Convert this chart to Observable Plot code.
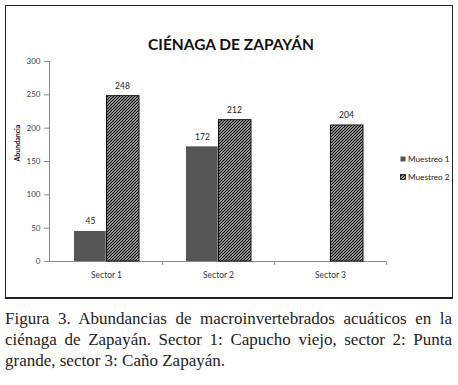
<!DOCTYPE html>
<html>
<head>
<meta charset="utf-8">
<script src="https://cdn.jsdelivr.net/npm/d3@7"></script>
<script src="https://cdn.jsdelivr.net/npm/@observablehq/plot@0.6"></script>
<style>
  html, body { margin: 0; padding: 0; background: #fff; }
  #wrap { position: relative; width: 458px; height: 300px; }
  #border { position: absolute; left: 5px; top: 5px; width: 446px; height: 291px; border: 1px solid #222; border-bottom-width: 2px; pointer-events: none; }
  #legend { position: absolute; left: 400px; top: 150px; width: 51px; overflow: hidden; white-space: nowrap; font: 8.2px Lato, sans-serif; color: #222; }
  #legend .item { height: 18px; display: flex; align-items: center; }
  #legend svg { margin-right: 2px; flex-shrink: 0; }
  #legend span { flex-shrink: 0; }
  #caption { width: 447px; margin: 8px 0 0 5px; font-family: "Liberation Serif", serif; font-size: 17px; line-height: 21px; color: #222; }
  #caption .j { text-align: justify; text-align-last: justify; }
</style>
</head>
<body>
<div id="wrap"></div>
<div id="caption"></div>
<script>
const title = "CIÉNAGA DE ZAPAYÁN";
const yLabel = "Abundancia";
const sectors = ["Sector 1", "Sector 2", "Sector 3"];
const series = ["Muestreo 1", "Muestreo 2"];
const muestreo1 = [45, 172, null];
const muestreo2 = [248, 212, 204];
const yTicks = [0, 50, 100, 150, 200, 250, 300];
const captionLines = [
  "Figura 3. Abundancias de macroinvertebrados acuáticos en la",
  "ciénaga de Zapayán. Sector 1: Capucho viejo, sector 2: Punta",
  "grande, sector 3: Caño Zapayán."
];

const m1 = sectors.map((s, i) => ({sector: s, value: muestreo1[i]})).filter(d => d.value != null);
const m2 = sectors.map((s, i) => ({sector: s, value: muestreo2[i]})).filter(d => d.value != null);

const font = "Lato, 'Open Sans', sans-serif";
const plot = Plot.plot({
  width: 458,
  height: 300,
  marginTop: 61,
  marginBottom: 39,
  marginLeft: 49,
  marginRight: 72,
  style: {fontFamily: font, background: "transparent", overflow: "visible"},
  x: {domain: sectors, padding: 0},
  y: {domain: [0, 300]},
  marks: [
    Plot.frame({anchor: "left", stroke: "#888"}),
    Plot.ruleY([0], {stroke: "#888"}),
    Plot.axisY({ticks: yTicks, tickSize: 5, tickPadding: 4, fontSize: 8, fill: "#444", stroke: "#888", label: null}),
    Plot.axisX({tickSize: 0, tickPadding: 10, fontSize: 8.5, fill: "#333", label: null}),
    Plot.axisX({tickSize: 4, dx: 56.2, tickFormat: () => "", stroke: "#888", label: null}),
    Plot.barY(m1, {x: "sector", y: "value", fill: "#555", insetLeft: 24, insetRight: 56.3}),
    Plot.barY(m2, {x: "sector", y: "value", fill: "url(#hatch)", stroke: "#111", strokeWidth: 1, insetLeft: 56.5, insetRight: 23}),
    Plot.text(m1, {x: "sector", y: "value", text: d => String(d.value), dx: -16, dy: -10, fontSize: 8.5, fill: "#222"}),
    Plot.text(m2, {x: "sector", y: "value", text: d => String(d.value), dx: 16, dy: -10, fontSize: 8.5, fill: "#222"}),
    Plot.text([title], {text: d => d, frameAnchor: "top", dx: 13, dy: -23, fontSize: 15.5, fontWeight: "bold", fill: "#111"}),
    Plot.text([yLabel], {text: d => d, frameAnchor: "left", rotate: -90, dx: -32, fontSize: 7, fontWeight: "bold", fill: "#111"})
  ]
});

// hatch pattern definition
const ns = "http://www.w3.org/2000/svg";
function makeDefs(svg) {
  const defs = document.createElementNS(ns, "defs");
  const pat = document.createElementNS(ns, "pattern");
  pat.setAttribute("id", "hatch");
  pat.setAttribute("patternUnits", "userSpaceOnUse");
  pat.setAttribute("width", "3");
  pat.setAttribute("height", "3");
  const bg = document.createElementNS(ns, "rect");
  bg.setAttribute("width", "3"); bg.setAttribute("height", "3"); bg.setAttribute("fill", "#fff");
  const p = document.createElementNS(ns, "path");
  p.setAttribute("d", "M-1,1 L1,-1 M0,3 L3,0 M2,4 L4,2");
  p.setAttribute("stroke", "#000");
  p.setAttribute("stroke-width", "1.3");
  pat.appendChild(bg); pat.appendChild(p);
  defs.appendChild(pat);
  svg.insertBefore(defs, svg.firstChild);
}
makeDefs(plot);

const wrap = document.getElementById("wrap");
wrap.appendChild(plot);
plot.style.position = "absolute";
plot.style.left = "0"; plot.style.top = "0";

// legend
const legend = document.createElement("div");
legend.id = "legend";
const fills = ["#555", "url(#hatch)"];
series.forEach((s, i) => {
  const item = document.createElement("div");
  item.className = "item";
  item.innerHTML = `<svg width="6" height="6"><rect x="0.5" y="0.5" width="5" height="5" fill="${fills[i]}" stroke="${i ? '#111' : 'none'}" stroke-width="0.8"/></svg><span>${s}</span>`;
  legend.appendChild(item);
});
wrap.appendChild(legend);

const border = document.createElement("div");
border.id = "border";
wrap.appendChild(border);

// caption
const cap = document.getElementById("caption");
captionLines.forEach((line, i) => {
  const d = document.createElement("div");
  if (i < captionLines.length - 1) d.className = "j";
  d.textContent = line;
  cap.appendChild(d);
});
</script>
</body>
</html>
